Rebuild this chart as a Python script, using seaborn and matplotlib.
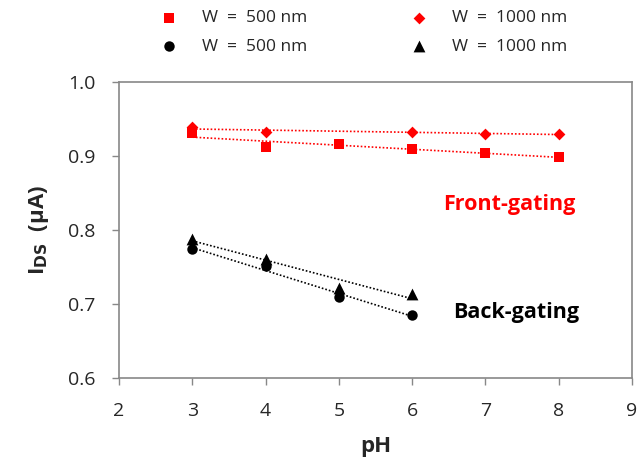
import numpy as np
import pandas as pd
import matplotlib
matplotlib.use("Agg")
import matplotlib.pyplot as plt
import seaborn as sns

# front-gating data
ph_front_500 = [3, 4, 5, 6, 7, 8]
ids_front_500 = [0.931, 0.912, 0.916, 0.909, 0.904, 0.899]
ph_front_1000 = [3, 4, 6, 7, 8]
ids_front_1000 = [0.939, 0.932, 0.932, 0.930, 0.930]

# back-gating data
ph_back_500 = [3, 4, 5, 6]
ids_back_500 = [0.774, 0.751, 0.709, 0.685]
ph_back_1000 = [3, 4, 5, 6]
ids_back_1000 = [0.788, 0.761, 0.722, 0.714]

x_ticks = [2, 3, 4, 5, 6, 7, 8, 9]
y_ticks = [0.6, 0.7, 0.8, 0.9, 1.0]

sns.set_theme(style="white")
plt.rcParams["font.family"] = ["Open Sans", "DejaVu Sans"]

fig = plt.figure(figsize=(6.38, 4.66), dpi=100)
ax = fig.add_axes([119 / 638, 1 - 378 / 466, 513 / 638, 296 / 466])

series = [
    (ph_front_500, ids_front_500, "red", "s", 7.5),
    (ph_back_500, ids_back_500, "black", "o", 7.5),
    (ph_front_1000, ids_front_1000, "red", "D", 6),
    (ph_back_1000, ids_back_1000, "black", "^", 8.5),
]

for xs, ys, col, mk, ms in series:
    # linear trendline, dotted
    xs_a = np.array(xs, dtype=float)
    coef = np.polyfit(xs_a, ys, 1)
    xl = np.array([xs_a.min(), xs_a.max()])
    ax.plot(xl, np.polyval(coef, xl), ls=(0, (1, 1.2)), color=col, lw=1.2, zorder=2)
    df = pd.DataFrame({"pH": xs, "I": ys})
    sns.scatterplot(data=df, x="pH", y="I", ax=ax, color=col, marker=mk,
                    s=ms ** 2, edgecolor=col, linewidth=0, zorder=3,
                    label="W  =  500 nm" if mk in ("s", "o") else "W  =  1000 nm")

ax.set_xlim(2, 9)
ax.set_ylim(0.6, 1.0)
ax.set_xticks(x_ticks)
ax.set_yticks(y_ticks)
ax.set_xticklabels([str(t) for t in x_ticks], fontsize=14)
ax.set_yticklabels([f"{t:.1f}" for t in y_ticks], fontsize=14)
ax.tick_params(axis="both", direction="out", length=5, width=1, color="#888888",
               left=True, bottom=True)
ax.tick_params(axis="y", pad=12)
ax.tick_params(axis="x", pad=12)
for sp in ax.spines.values():
    sp.set_color("#888888")
    sp.set_linewidth(1.2)

ax.set_xlabel("pH", fontsize=16, fontweight="bold", labelpad=12)
ax.set_ylabel(r"I$_{\mathbf{DS}}$  (µA)", fontsize=16, fontweight="bold", labelpad=12)

ax.text(6.42, 0.835, "Front-gating", color="red", fontsize=15.5, fontweight="bold",
        va="center", ha="left")
ax.text(6.56, 0.688, "Back-gating", color="black", fontsize=15.5, fontweight="bold",
        va="center", ha="left")

ax.legend_.remove()
handles, labels = ax.get_legend_handles_labels()
fig.legend(handles, labels, loc="upper left", bbox_to_anchor=(152 / 638, 1 - 10 / 466),
           ncol=2, frameon=False, fontsize=12.5, columnspacing=5.4,
           handletextpad=0.9, labelspacing=0.72, borderaxespad=0, borderpad=0)

fig.savefig("out.png", dpi=100)
